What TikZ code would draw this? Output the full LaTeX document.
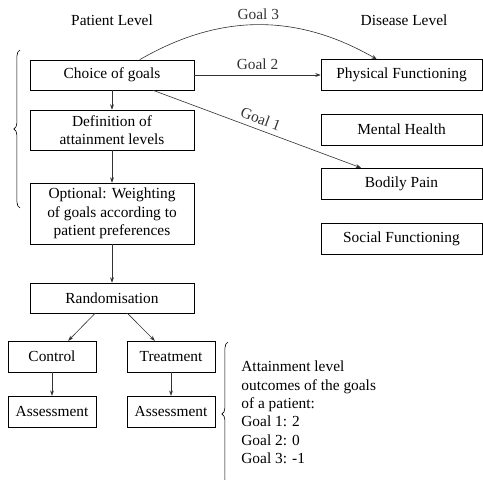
\documentclass[tikz,border=0pt]{standalone}
\usepackage{fontspec}
\setmainfont{Liberation Serif}
\usetikzlibrary{arrows.meta,decorations.pathreplacing}
\begin{document}
\begin{tikzpicture}[x=0.65pt,y=-0.65pt,
  box/.style={draw,align=center,minimum width=106.6pt,minimum height=19.5pt,inner sep=2pt},
  smallbox/.style={draw,align=center,minimum width=57.2pt,minimum height=20pt,inner sep=2pt},
  dbox/.style={draw,align=center,minimum width=104.65pt,minimum height=20pt,inner sep=2pt},
  arr/.style={-{Stealth[length=3.5pt,width=2.5pt]},thin,black!80},
  brc/.style={decorate,decoration={brace,amplitude=4pt},thin}]
\useasboundingbox (0,0) rectangle (483,479);
\node (pl) at (112,20) {Patient Level};
\node (dl) at (404,20) {Disease Level};
\node[box] (choice) at (112,75) {Choice of goals};
\node[box,minimum height=26pt] (def) at (112,130) {Definition of\\attainment levels};
\node[box,minimum height=39.6pt] (opt) at (112,213.5) {Optional: Weighting\\of goals according to\\patient preferences};
\node[box] (rand) at (112,298) {Randomisation};
\node[smallbox] (ctrl) at (52,356.5) {Control};
\node[smallbox] (treat) at (171,356.5) {Treatment};
\node[smallbox] (ass1) at (52,411.5) {Assessment};
\node[smallbox] (ass2) at (171,411.5) {Assessment};
\node[dbox] (phys) at (401.5,75) {Physical Functioning};
\node[dbox] (ment) at (401.5,129.5) {Mental Health};
\node[dbox] (pain) at (401.5,183.5) {Bodily Pain};
\node[dbox] (soc) at (401.5,239) {Social Functioning};
% patient level flow
\draw[arr] (choice) -- (def);
\draw[arr] (def) -- (opt);
\draw[arr] (opt) -- (rand);
\draw[arr] ([xshift=-11pt]rand.south) -- ([xshift=10.5pt]ctrl.north);
\draw[arr] ([xshift=10pt]rand.south) -- ([xshift=-10.5pt]treat.north);
\draw[arr] (ctrl) -- (ass1);
\draw[arr] (treat) -- (ass2);
% goals
\draw[arr] ([xshift=18pt]choice.north) to[bend left=30] node[above] {Goal 3} ([xshift=-16pt]phys.north);
\draw[arr] (choice) -- node[above] {Goal 2} (phys);
\draw[arr] ([xshift=26.7pt]choice.south) -- node[midway,above,sloped] {Goal 1} ([xshift=-26.3pt]pain.north);
% braces
\coordinate (b1s) at (20,208);
\coordinate (b1e) at (20,50);
\draw[brc] (b1s) -- (b1e);
\coordinate (b2s) at (228,486);
\coordinate (b2e) at (228,342);
\draw[brc] (b2s) -- (b2e);
\node[anchor=west,align=left,inner sep=2pt] (outc) at (238,412.5) {Attainment level\\outcomes of the goals\\of a patient:\\Goal 1: 2\\Goal 2: 0\\Goal 3: -1};
\end{tikzpicture}
\end{document}
